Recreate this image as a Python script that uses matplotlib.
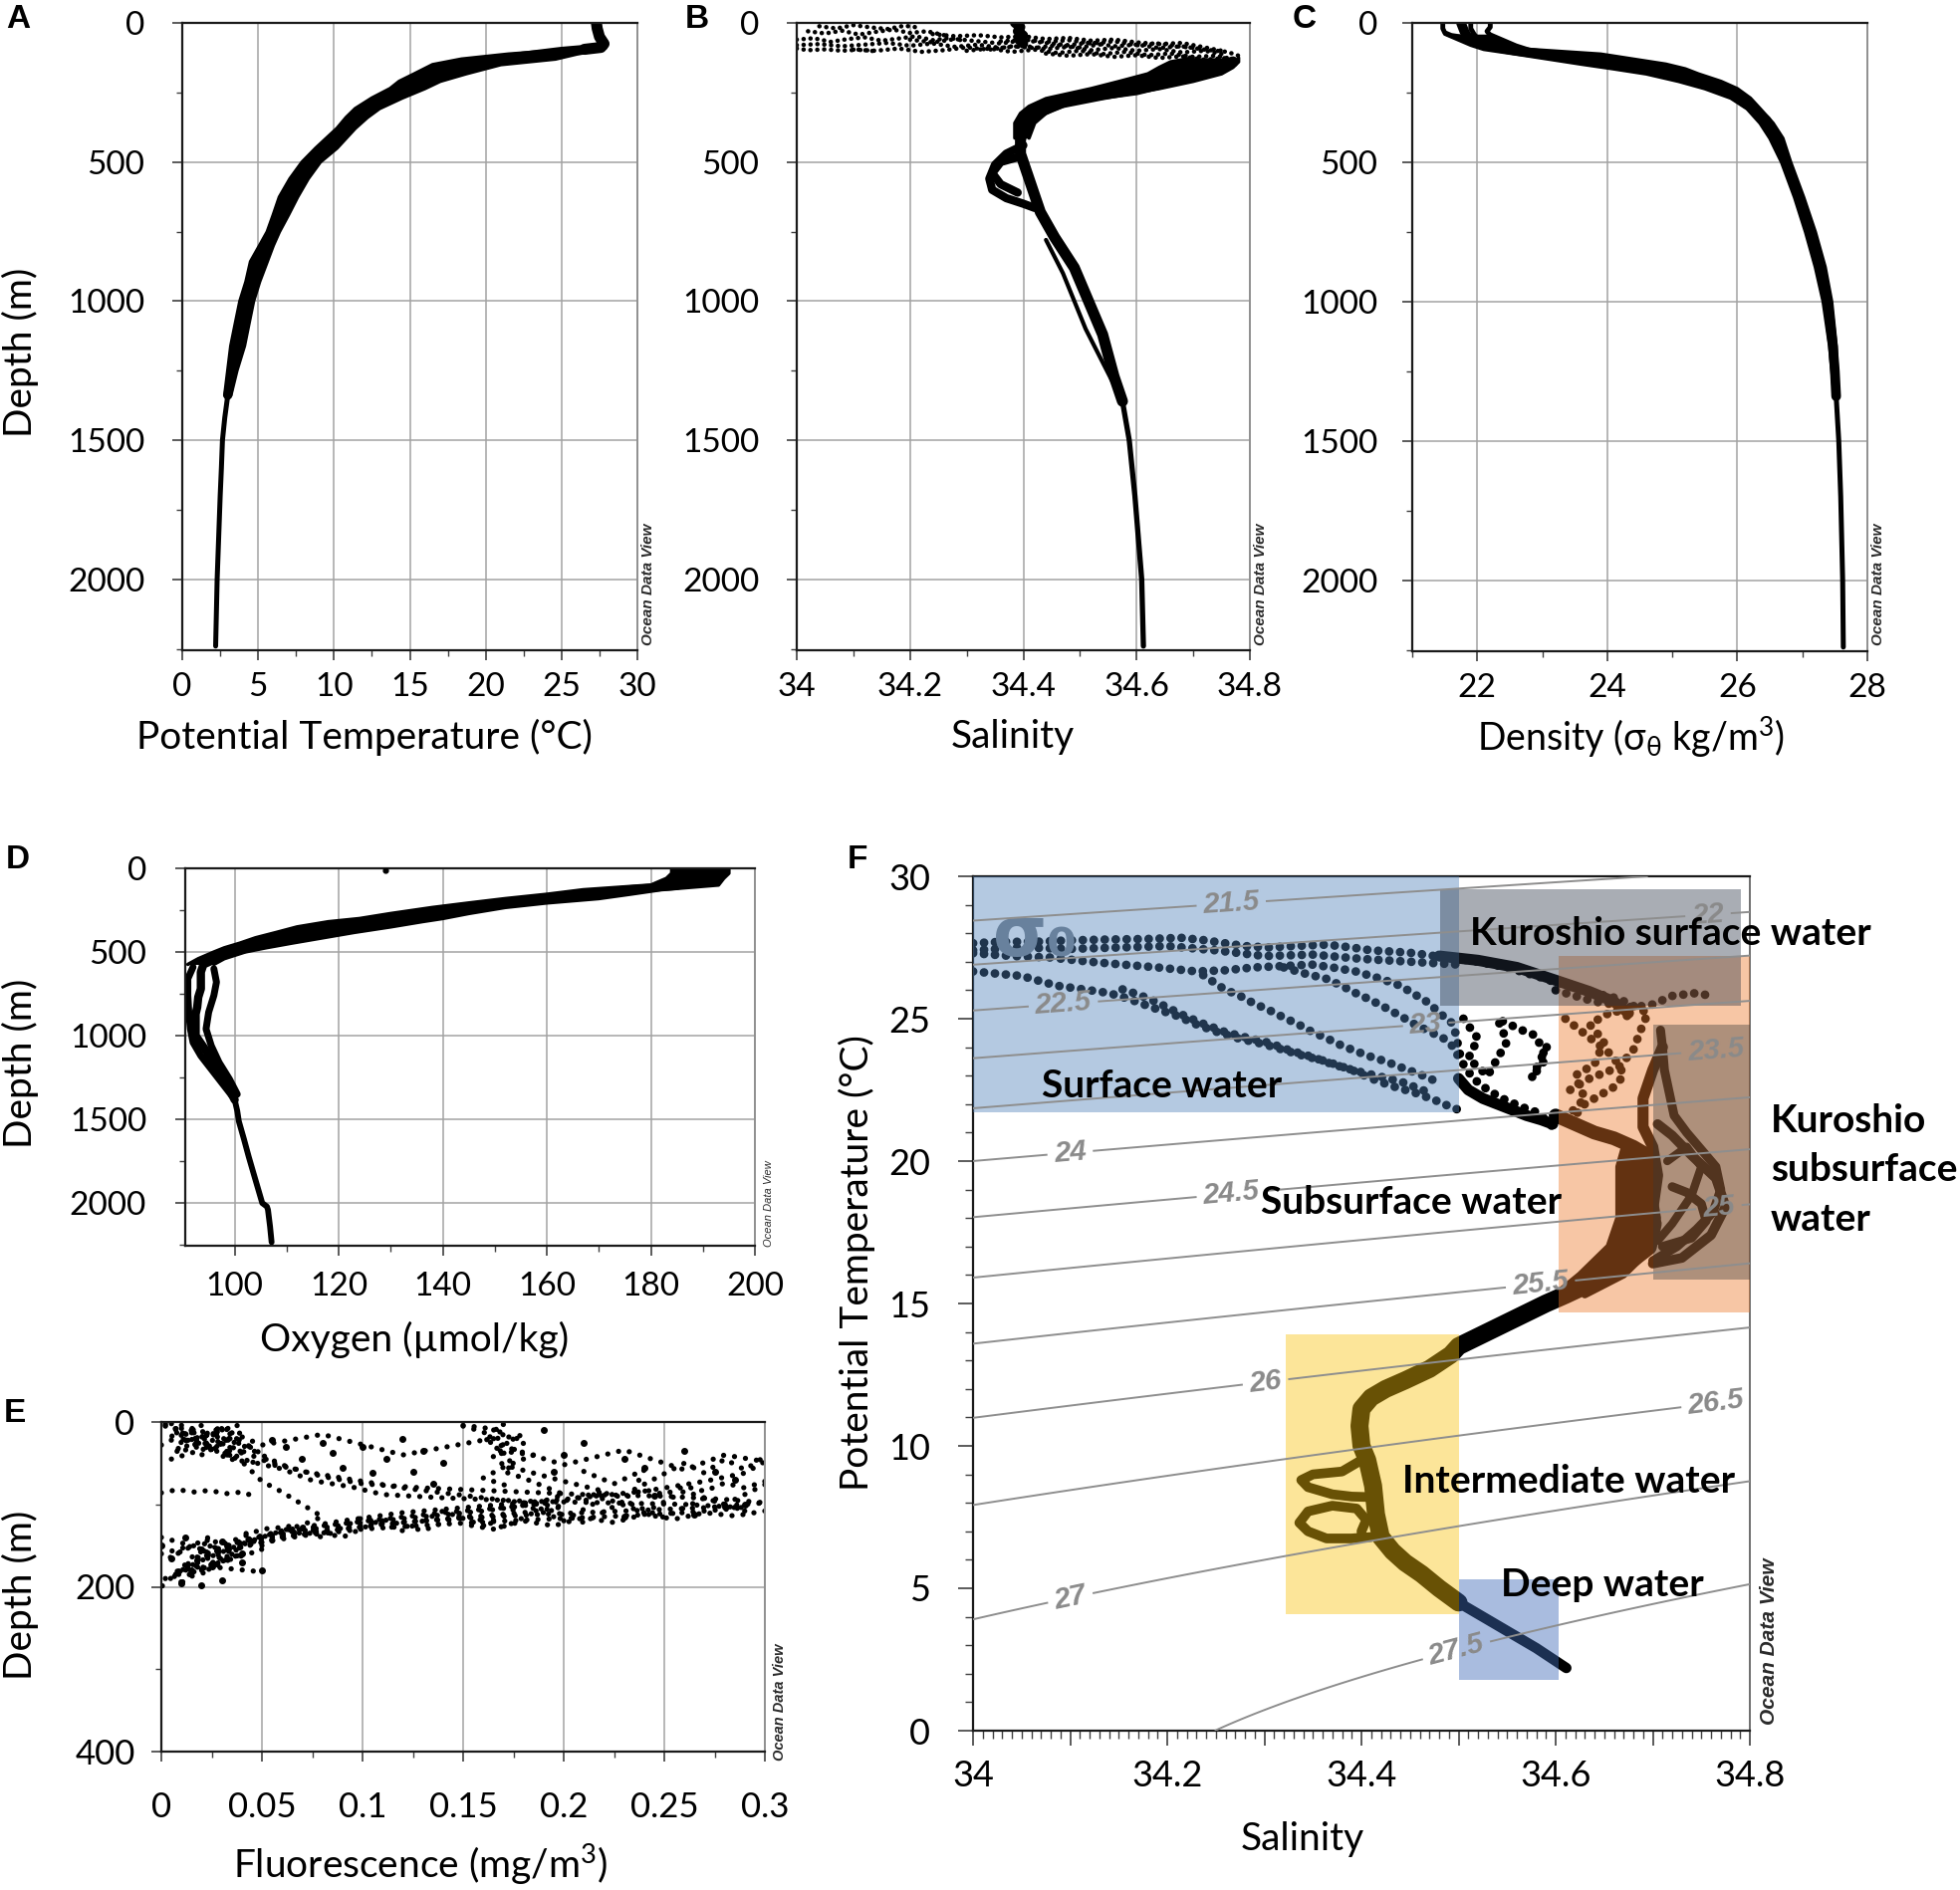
import numpy as np
import matplotlib
matplotlib.use("Agg")
import matplotlib.pyplot as plt
from matplotlib.patches import Rectangle
from matplotlib import font_manager

# ------------------------------------------------------------------ data
# Panel A : potential temperature profile (centre line + band edges)
A_DEPTH = [0, 20, 50, 75, 88, 95, 102, 112, 122, 135, 150, 165, 183, 205, 236, 270, 308, 340,
           379, 420, 450, 500, 560, 626, 690, 751, 810, 858, 930, 1000, 1080, 1161, 1250, 1339,
           1420, 1500, 1600, 1700, 1850, 2000, 2120, 2240]
A_TEMP = [27.3, 27.35, 27.5, 27.8, 27.6, 26.5, 25.0, 23.5, 22.0, 20.5, 19.3, 18.2, 17.0, 16.0,
          14.8, 13.5, 12.2, 11.5, 10.8, 10.1, 9.5, 8.5, 7.7, 7.0, 6.5, 6.0, 5.5, 5.1, 4.6, 4.25,
          3.9, 3.65, 3.3, 3.0, 2.8, 2.65, 2.58, 2.5, 2.4, 2.3, 2.25, 2.2]
A_EDGE_DEPTH = [90, 100, 112, 130, 150, 183, 210, 236, 270, 308, 340, 379, 450, 500, 560, 626,
                690, 751, 800, 858, 930, 1000, 1080, 1161, 1250, 1339]
A_EDGE_LO = [26.5, 24.5, 21.5, 18.4, 16.5, 15.3, 14.3, 13.7, 12.5, 11.4, 10.8, 10.2, 8.8, 7.9,
             7.1, 6.4, 6.0, 5.6, 5.1, 4.5, 4.2, 3.8, 3.5, 3.2, 3.0, 2.8]
A_EDGE_HI = [27.9, 27.2, 26.0, 24.6, 21.0, 18.7, 17.0, 16.0, 14.5, 13.0, 12.2, 11.4, 10.2, 9.1,
             8.3, 7.6, 7.0, 6.4, 6.0, 5.6, 5.1, 4.7, 4.4, 4.1, 3.6, 3.2]

# Panel B : salinity profile
B_DEPTH = [140, 160, 185, 210, 240, 270, 300, 330, 380, 420, 470, 500, 560, 620, 680, 770, 880,
           1000, 1120, 1270, 1360, 1500, 1700, 2000, 2240]
B_SAL = [34.77, 34.74, 34.70, 34.66, 34.60, 34.49, 34.45, 34.42, 34.40, 34.395, 34.395, 34.40,
         34.41, 34.42, 34.43, 34.455, 34.49, 34.515, 34.54, 34.56, 34.575, 34.587, 34.597,
         34.609, 34.612]
B_EDGE_DEPTH = [125, 140, 160, 183, 210, 236, 272, 300, 325, 360, 414]
B_EDGE_LO = [34.70, 34.66, 34.64, 34.62, 34.57, 34.52, 34.44, 34.41, 34.395, 34.385, 34.385]
B_EDGE_HI = [34.78, 34.78, 34.77, 34.75, 34.70, 34.64, 34.54, 34.47, 34.44, 34.42, 34.41]
B_LOW_SAL = [[34.40, 34.37, 34.35, 34.34, 34.345, 34.37, 34.40, 34.42],
             [34.395, 34.36, 34.345, 34.36, 34.39]]
B_LOW_DEPTH = [[440, 470, 510, 560, 600, 630, 650, 665], [480, 500, 540, 580, 610]]
B_SIDE_SAL = [34.44, 34.47, 34.49, 34.51, 34.535, 34.56]
B_SIDE_DEPTH = [780, 900, 1000, 1100, 1200, 1300]
B_BLOB_SAL = [34.385, 34.395, 34.39, 34.40, 34.392, 34.40]
B_BLOB_DEPTH = [0, 15, 30, 45, 60, 75]
B_SURF_SAL = [
    [34.00, 34.03, 34.06, 34.09, 34.12, 34.15, 34.18, 34.21, 34.24, 34.27, 34.30],
    [34.02, 34.05, 34.08, 34.11, 34.14, 34.17, 34.20, 34.23, 34.26],
    [34.00, 34.04, 34.08, 34.12, 34.16, 34.20, 34.24, 34.28, 34.32, 34.36, 34.40, 34.44, 34.48,
     34.52, 34.56, 34.60, 34.64, 34.68, 34.72, 34.76],
    [34.20, 34.24, 34.28, 34.32, 34.36, 34.40, 34.44, 34.48, 34.52, 34.56, 34.60, 34.64, 34.68,
     34.72, 34.76, 34.78],
    [34.24, 34.28, 34.32, 34.36, 34.40, 34.44, 34.48, 34.52, 34.56, 34.60, 34.64, 34.68, 34.72,
     34.75],
    [34.30, 34.34, 34.38, 34.42, 34.46, 34.50, 34.54, 34.58, 34.62, 34.66, 34.70, 34.74, 34.77],
    [34.10, 34.14, 34.18, 34.22, 34.26, 34.30, 34.34, 34.38, 34.42, 34.46, 34.50, 34.54],
    [34.00, 34.02, 34.05, 34.08, 34.11, 34.14],
    [34.44, 34.48, 34.52, 34.56, 34.60, 34.64, 34.68, 34.72, 34.76],
    [34.04, 34.07, 34.10, 34.13, 34.16, 34.19, 34.22],
    [34.36, 34.40, 34.44, 34.48, 34.52, 34.56, 34.60, 34.64, 34.68, 34.72],
]
B_SURF_DEPTH = [
    [60, 55, 68, 58, 52, 64, 56, 48, 62, 54, 66],
    [30, 38, 28, 42, 32, 24, 36, 30, 44],
    [80, 76, 84, 78, 72, 82, 74, 86, 78, 90, 82, 94, 86, 98, 90, 100, 94, 106, 100, 115],
    [60, 70, 58, 66, 74, 62, 72, 80, 70, 84, 78, 90, 84, 96, 104, 118],
    [40, 48, 44, 52, 48, 58, 54, 64, 60, 70, 76, 72, 88, 100],
    [100, 92, 104, 96, 108, 100, 112, 104, 116, 110, 122, 118, 130],
    [96, 100, 92, 104, 98, 88, 96, 84, 90, 80, 88, 76],
    [92, 98, 95, 100, 96, 102],
    [110, 118, 112, 122, 116, 126, 120, 132, 126],
    [12, 20, 8, 16, 22, 10, 18],
    [66, 60, 68, 62, 74, 66, 80, 74, 86, 92],
]

# Panel C : density profile
C_DEPTH = [0, 30, 50, 62, 75, 90, 100, 112, 125, 140, 155, 170, 183, 200, 220, 236, 260, 285,
           308, 350, 414, 500, 560, 626, 690, 751, 815, 876, 940, 1000, 1080, 1160, 1250, 1340,
           1420, 1500, 1600, 1700, 1850, 2000, 2120, 2240]
C_SIG = [21.75, 21.8, 21.85, 21.95, 22.1, 22.35, 22.6, 23.0, 23.5, 24.0, 24.4, 24.75, 25.0, 25.3,
         25.6, 25.75, 25.95, 26.1, 26.25, 26.45, 26.6, 26.75, 26.85, 26.95, 27.03, 27.12, 27.2,
         27.28, 27.33, 27.39, 27.43, 27.47, 27.5, 27.52, 27.54, 27.56, 27.575, 27.59, 27.605,
         27.62, 27.625, 27.63]
C_EDGE_DEPTH = [40, 60, 80, 95, 112, 130, 148, 165, 183, 210, 236, 270, 308, 360, 414, 500, 626,
                751, 876, 1000, 1160, 1340]
C_EDGE_LO = [21.5, 21.7, 21.9, 22.1, 22.6, 23.1, 23.6, 24.1, 24.6, 25.1, 25.5, 25.9, 26.15,
             26.35, 26.5, 26.68, 26.88, 27.05, 27.2, 27.32, 27.42, 27.49]
C_EDGE_HI = [22.2, 22.4, 22.6, 22.8, 23.9, 24.4, 24.9, 25.2, 25.4, 25.75, 26.0, 26.2, 26.35,
             26.55, 26.7, 26.82, 27.02, 27.2, 27.35, 27.45, 27.52, 27.55]
C_SURF_SIG = [[21.47, 21.47, 21.5, 21.6, 21.8, 22.0], [22.2, 22.2, 22.15, 22.2, 22.3],
              [21.9, 21.9, 21.95, 22.0]]
C_SURF_DEPTH = [[0, 20, 35, 45, 52, 60], [0, 15, 30, 45, 62], [0, 20, 40, 55]]

# Panel D : oxygen profile
D_DEPTH = [0, 40, 80, 105, 128, 155, 181, 207, 234, 270, 300, 319, 350, 383, 415, 447, 475, 500,
           540, 574, 620, 660, 720, 770, 830, 870, 940, 1000, 1045, 1090, 1140, 1190, 1250, 1300,
           1340, 1383, 1450, 1511, 1620, 1723, 1830, 1936, 2000, 2021, 2040, 2140, 2234]
D_OXY = [190, 190, 188, 185, 175, 168, 161, 153, 145, 137, 131, 127, 121, 115, 110, 106, 103,
         99.5, 96.5, 94, 93.5, 93.5, 93.5, 93, 92.8, 92.5, 92.5, 92.5, 93.5, 94.5, 95.5, 96.5,
         97.5, 98.5, 99.3, 100, 100.5, 100.8, 101.8, 102.7, 103.7, 104.7, 105.3, 106.2, 106.4,
         106.8, 107.1]
D_EDGE_DEPTH = [0, 30, 60, 100, 128, 155, 181, 207, 234, 270, 300, 319, 350, 383, 415, 447, 475,
                500, 540, 574]
D_EDGE_LO = [184, 184, 183, 180, 167, 160, 152, 145, 138, 130, 124, 118, 112, 108, 104, 101, 98,
             96, 93, 91]
D_EDGE_HI = [195, 195, 194, 193, 182, 176, 170, 160, 152, 145, 140, 136, 130, 123, 117, 111, 106,
             102, 98, 96]
D_CAST_OXY = [[92, 91, 91, 91.2, 91.5, 92, 93.5, 95.5, 97.5, 99.5],
              [96, 96.5, 96, 95, 94.5, 95.5, 97, 99, 100.5]]
D_CAST_DEPTH = [[590, 660, 760, 870, 960, 1040, 1120, 1200, 1280, 1360],
                [600, 680, 760, 860, 960, 1060, 1160, 1260, 1350]]
D_DOT_OXY = [129]
D_DOT_DEPTH = [12]

# Panel E : fluorescence casts
E_FLUO = [
    [0.005, 0.012, 0.02, 0.03, 0.04, 0.05, 0.065, 0.08, 0.10, 0.13, 0.17, 0.21, 0.25, 0.28, 0.30,
     0.27, 0.23, 0.19, 0.15, 0.11, 0.08, 0.05, 0.03, 0.015, 0.005],
    [0.002, 0.01, 0.018, 0.028, 0.036, 0.044, 0.06, 0.075, 0.095, 0.11, 0.14, 0.18, 0.22, 0.26,
     0.29, 0.26, 0.22, 0.18, 0.14, 0.10, 0.07, 0.045, 0.025, 0.01, 0.0],
    [0.15, 0.16, 0.165, 0.17, 0.168, 0.172, 0.175, 0.17, 0.18, 0.19, 0.2, 0.185, 0.16, 0.13, 0.10,
     0.075, 0.05, 0.03, 0.015],
    [0.17, 0.165, 0.172, 0.18, 0.175, 0.165, 0.17, 0.185, 0.2, 0.22, 0.2, 0.17, 0.14, 0.11, 0.08,
     0.055, 0.035, 0.02, 0.005],
    [0.03, 0.05, 0.08, 0.12, 0.16, 0.2, 0.23, 0.26, 0.28, 0.3, 0.29, 0.27, 0.24, 0.2, 0.16, 0.12,
     0.09, 0.06, 0.04, 0.02, 0.01],
    [0.01, 0.025, 0.04, 0.05, 0.06, 0.07, 0.085, 0.1, 0.12, 0.14, 0.16, 0.18, 0.2, 0.18, 0.15,
     0.12, 0.09, 0.06, 0.04, 0.02, 0.008],
    [0.002, 0.01, 0.02, 0.03, 0.04, 0.045, 0.05, 0.06, 0.07, 0.08, 0.07, 0.06, 0.05, 0.04, 0.03,
     0.02, 0.01, 0.003],
    [0.0, 0.008, 0.016, 0.024, 0.032, 0.04, 0.046],
    [0.002, 0.01, 0.004, 0.018, 0.008, 0.026, 0.012, 0.034, 0.02, 0.04, 0.03, 0.045],
    [0.0, 0.02, 0.006, 0.03, 0.015, 0.038, 0.025, 0.044, 0.035, 0.05],
    [0.005, 0.025, 0.01, 0.035, 0.03, 0.048, 0.055, 0.065],
    [0.0, 0.015, 0.004, 0.025, 0.01, 0.035, 0.02, 0.045, 0.03, 0.05, 0.04],
    [0.002, 0.02, 0.008, 0.03, 0.016, 0.04, 0.026, 0.05],
    [0.0, 0.012, 0.028, 0.018, 0.04, 0.05, 0.06, 0.07],
    [0.05, 0.07, 0.09, 0.11, 0.13, 0.15, 0.17, 0.19, 0.21, 0.23, 0.25, 0.27, 0.29],
    [0.3, 0.28, 0.26, 0.24, 0.22, 0.2, 0.18, 0.16, 0.14, 0.12, 0.1, 0.08, 0.06],
    [0.21, 0.225, 0.24, 0.235, 0.26, 0.27, 0.28, 0.29, 0.3],
    [0.15, 0.17, 0.16, 0.18, 0.165, 0.185, 0.17, 0.16, 0.175],
    [0.3, 0.29, 0.28, 0.27, 0.26, 0.25, 0.24, 0.23, 0.22, 0.21],
    [0.3, 0.285, 0.27, 0.255, 0.24, 0.225, 0.21, 0.195, 0.18, 0.165, 0.15],
]
E_DEPTH = [
    [2, 10, 18, 26, 35, 46, 56, 66, 75, 80, 84, 88, 90, 94, 98, 104, 108, 112, 117, 123, 132, 142,
     155, 170, 190],
    [5, 12, 22, 30, 40, 48, 57, 71, 79, 88, 92, 96, 98, 100, 104, 110, 115, 119, 124, 130, 138,
     148, 160, 178, 200],
    [5, 12, 20, 28, 36, 44, 52, 60, 68, 78, 88, 100, 108, 115, 122, 130, 140, 152, 168],
    [3, 10, 18, 26, 34, 42, 52, 62, 72, 84, 96, 104, 110, 118, 126, 136, 148, 165, 185],
    [8, 28, 15, 40, 22, 52, 34, 58, 40, 48, 62, 72, 84, 94, 102, 110, 120, 132, 144, 160, 178],
    [4, 15, 28, 40, 52, 60, 66, 72, 80, 86, 92, 98, 103, 110, 116, 122, 130, 140, 152, 168, 186],
    [2, 12, 24, 36, 48, 60, 72, 85, 100, 115, 125, 132, 140, 148, 158, 168, 180, 195],
    [86, 82, 85, 83, 87, 85, 90],
    [4, 10, 18, 8, 26, 14, 34, 20, 40, 12, 44, 30],
    [28, 4, 38, 6, 22, 4, 16, 30, 46, 50],
    [45, 30, 20, 42, 8, 36, 52, 56],
    [140, 150, 165, 138, 178, 150, 185, 142, 170, 155, 130],
    [190, 172, 198, 165, 182, 160, 176, 182],
    [160, 152, 145, 160, 140, 130, 128, 136],
    [150, 128, 140, 118, 132, 112, 128, 104, 122, 96, 116, 92, 108],
    [76, 100, 84, 110, 92, 120, 100, 126, 108, 132, 116, 140, 124],
    [60, 75, 58, 82, 50, 62, 45, 58, 42],
    [4, 10, 22, 16, 34, 40, 55, 68, 80],
    [72, 80, 74, 84, 78, 88, 82, 92, 86, 96],
    [108, 114, 110, 118, 112, 122, 116, 126, 120, 130, 124],
]
E_SCAT_FLUO = [0.055, 0.062, 0.07, 0.08, 0.085, 0.09, 0.1, 0.105, 0.112, 0.12, 0.125, 0.13, 0.135,
               0.14, 0.19, 0.2, 0.195, 0.21, 0.23, 0.24, 0.26, 0.275, 0.285, 0.245, 0.23, 0.265,
               0.28, 0.29, 0.05, 0.04, 0.02, 0.03, 0.01, 0.0, 0.005, 0.012, 0.02, 0.03, 0.04,
               0.015, 0.025]
E_SCAT_DEPTH = [22, 30, 45, 25, 38, 55, 30, 62, 45, 20, 60, 35, 75, 50, 10, 40, 60, 25, 45, 55,
                35, 60, 70, 90, 115, 112, 103, 100, 180, 170, 198, 192, 196, 150, 165, 140, 155,
                145, 160, 180, 175]

# Panel F : T-S diagram
F_BAND_SAL = [34.611, 34.58, 34.545, 34.52, 34.50, 34.48, 34.462, 34.445, 34.432, 34.42, 34.415,
              34.412, 34.406, 34.400, 34.398, 34.40, 34.41, 34.425, 34.445, 34.47, 34.492, 34.50,
              34.53, 34.56, 34.59, 34.61, 34.635, 34.655, 34.672, 34.695, 34.70]
F_BAND_TEMP = [2.2, 2.9, 3.6, 4.1, 4.5, 5.0, 5.5, 5.9, 6.3, 6.8, 7.6, 8.6, 9.5, 10.0, 10.7, 11.3,
               11.7, 12.0, 12.3, 12.7, 13.2, 13.5, 14.0, 14.5, 15.0, 15.3, 15.7, 16.0, 16.4,
               17.0, 17.8]
F_LOOP_SAL = [[34.41, 34.39, 34.364, 34.345, 34.336, 34.345, 34.37, 34.395, 34.405, 34.40],
              [34.41, 34.39, 34.37, 34.345, 34.338, 34.35, 34.38, 34.40]]
F_LOOP_TEMP = [[6.8, 6.75, 6.75, 7.0, 7.3, 7.7, 7.9, 7.8, 7.4, 7.0],
               [8.2, 8.22, 8.3, 8.55, 8.8, 9.0, 9.1, 9.5]]
# dense Kuroshio band (edges) and strands
F_KBAND_TEMP = [15.3, 16.0, 17.0, 18.0, 19.0, 19.8, 20.4]
F_KBAND_LO = [34.60, 34.625, 34.655, 34.665, 34.665, 34.665, 34.67]
F_KBAND_HI = [34.63, 34.67, 34.70, 34.705, 34.70, 34.70, 34.70]
F_KURO_SAL = [
    [34.60, 34.62, 34.64, 34.66, 34.68, 34.695, 34.70, 34.69],
    [34.695, 34.70, 34.705, 34.70, 34.69, 34.69, 34.70, 34.71],
    [34.70, 34.725, 34.745, 34.762, 34.77, 34.765, 34.75, 34.735, 34.722, 34.717, 34.712, 34.71,
     34.708],
    [34.71, 34.74, 34.755, 34.75, 34.735, 34.72],
    [34.70, 34.73, 34.76, 34.775, 34.765, 34.74, 34.72, 34.705],
    [34.705, 34.72, 34.74, 34.75, 34.735, 34.715],
    [34.48, 34.52, 34.56, 34.60, 34.635, 34.66, 34.675],
]
F_KURO_TEMP = [
    [21.6, 21.3, 21.0, 20.8, 20.5, 20.2, 19.6, 19.0],
    [17.5, 18.3, 19.5, 20.5, 21.2, 22.2, 23.2, 24.0],
    [16.5, 17.0, 17.6, 18.2, 19.0, 19.8, 20.4, 21.0, 21.6, 22.4, 23.2, 24.0, 24.6],
    [17.0, 17.3, 17.9, 18.5, 18.9, 19.1],
    [16.4, 16.6, 17.4, 18.4, 19.4, 20.2, 20.9, 21.3],
    [17.2, 17.8, 18.8, 19.8, 20.5, 20.0],
    [27.2, 27.05, 26.8, 26.35, 25.95, 25.6, 25.2],
]
F_KURO_LW = [10, 8, 6.5, 6.5, 7, 6, 8]
F_WARM_SAL = [
    [34.0, 34.03, 34.064, 34.10, 34.139, 34.18, 34.214, 34.24, 34.259, 34.28, 34.304, 34.33,
     34.364, 34.39, 34.41, 34.435, 34.455, 34.475, 34.49, 34.52, 34.55, 34.57, 34.59, 34.605],
    [34.0, 34.05, 34.1, 34.15, 34.2, 34.25, 34.3, 34.35, 34.4, 34.45, 34.5],
    [34.0, 34.05, 34.086, 34.12, 34.14, 34.16, 34.184, 34.21, 34.23, 34.25, 34.274, 34.30, 34.32,
     34.34, 34.364, 34.39, 34.41, 34.43, 34.455, 34.475, 34.492, 34.5],
    [34.0, 34.04, 34.079, 34.12, 34.154, 34.19, 34.23, 34.26, 34.289, 34.32, 34.349, 34.37,
     34.394, 34.42, 34.44, 34.455, 34.47, 34.48, 34.492, 34.498, 34.5, 34.505, 34.515, 34.53,
     34.545, 34.565, 34.582, 34.597],
    [34.154, 34.17, 34.184, 34.2, 34.214, 34.235, 34.259, 34.28, 34.304, 34.325, 34.349, 34.37,
     34.394, 34.415, 34.44, 34.455, 34.47],
    [34.237, 34.248, 34.259, 34.275, 34.289, 34.305, 34.32, 34.335, 34.349, 34.365, 34.38, 34.395,
     34.41, 34.425, 34.44, 34.46, 34.477],
    [34.32, 34.34, 34.364, 34.38, 34.394, 34.41, 34.424, 34.44, 34.455, 34.47, 34.485, 34.495,
     34.5],
    [34.505, 34.52, 34.51, 34.53, 34.55, 34.54, 34.565, 34.58, 34.59, 34.575, 34.595],
    [34.60, 34.62, 34.64, 34.66, 34.68, 34.70, 34.72, 34.745, 34.76],
    [34.61, 34.625, 34.64, 34.655, 34.665, 34.67, 34.66, 34.645, 34.63, 34.62],
    [34.61, 34.63, 34.62, 34.64, 34.65, 34.635, 34.66, 34.68],
    [34.615, 34.635, 34.665, 34.68, 34.687, 34.695, 34.665, 34.627, 34.59],
]
F_WARM_TEMP = [
    [27.65, 27.7, 27.7, 27.75, 27.78, 27.8, 27.84, 27.75, 27.65, 27.55, 27.5, 27.55, 27.6, 27.5,
     27.4, 27.35, 27.3, 27.2, 27.15, 27.0, 26.8, 26.6, 26.4, 26.2],
    [27.4, 27.5, 27.45, 27.5, 27.55, 27.4, 27.2, 27.25, 27.1, 27.0, 26.9],
    [26.66, 26.5, 26.16, 26.0, 25.9, 25.7, 25.4, 25.1, 24.8, 24.55, 24.3, 24.1, 23.9, 23.7, 23.5,
     23.2, 22.9, 22.65, 22.4, 22.15, 21.9, 21.8],
    [27.3, 27.2, 27.15, 27.0, 26.9, 26.8, 26.66, 26.7, 26.8, 26.85, 26.9, 26.8, 26.66, 26.4,
     26.16, 25.85, 25.54, 25.2, 24.9, 24.4, 23.9, 23.4, 22.9, 22.5, 22.2, 21.9, 21.7, 21.2],
    [26.03, 25.85, 25.66, 25.4, 25.16, 24.85, 24.54, 24.35, 24.16, 23.9, 23.66, 23.4, 23.17,
     23.0, 22.8, 22.6, 22.4],
    [26.53, 26.28, 26.03, 25.8, 25.54, 25.3, 25.04, 24.8, 24.54, 24.3, 24.05, 23.85, 23.66, 23.5,
     23.3, 23.05, 22.8],
    [26.8, 26.6, 26.4, 26.15, 25.9, 25.65, 25.4, 25.1, 24.8, 24.55, 24.3, 24.0, 23.65],
    [25.0, 24.3, 23.6, 23.0, 24.2, 25.0, 24.6, 24.4, 23.6, 22.9, 24.3],
    [26.0, 25.8, 25.6, 25.5, 25.4, 25.5, 25.8, 25.9, 25.8],
    [25.0, 24.6, 24.2, 23.8, 23.4, 23.0, 22.6, 22.3, 22.0, 21.6],
    [21.5, 22.2, 23.0, 23.4, 24.2, 24.8, 25.3, 25.0],
    [22.5, 22.9, 23.3, 23.9, 24.55, 25.2, 25.7, 26.0, 26.4],
]
F_EDGE_SAL = [34.50, 34.51, 34.525, 34.54, 34.555, 34.57, 34.585, 34.597]
F_EDGE_TEMP = [22.9, 22.5, 22.2, 22.0, 21.8, 21.6, 21.45, 21.3]

SIG_LEVELS = [21.5, 22.0, 22.5, 23.0, 23.5, 24.0, 24.5, 25.0, 25.5, 26.0, 26.5, 27.0, 27.5]
SIG_LABEL_POS = [(34.266, 29.0), (34.757, 28.6), (34.093, 25.5), (34.466, 24.9), (34.765, 23.9),
                 (34.10, 20.3), (34.266, 18.8), (34.768, 18.4), (34.584, 15.8), (34.301, 12.3),
                 (34.765, 11.5), (34.10, 4.7), (34.498, 2.8)]

# water-mass boxes: (S0, S1, T0, T1, colour, alpha)
WATER_BOXES = [
    (34.0, 34.50, 21.7, 30.0, (0.30, 0.50, 0.72), 0.42),
    (34.603, 34.80, 14.7, 27.2, (0.93, 0.47, 0.16), 0.42),
    (34.481, 34.791, 25.44, 29.55, (0.16, 0.20, 0.27), 0.40),
    (34.70, 34.80, 15.84, 24.79, (0.22, 0.22, 0.22), 0.38),
    (34.322, 34.50, 4.1, 13.9, (0.98, 0.76, 0.05), 0.42),
    (34.50, 34.603, 1.8, 5.33, (0.25, 0.42, 0.72), 0.45),
]
WATER_LABELS = [("Kuroshio surface water", 34.512, 28.0),
                ("Surface water", 34.071, 22.65),
                ("Subsurface water", 34.296, 18.55),
                ("Intermediate water", 34.442, 8.75),
                ("Deep water", 34.544, 5.12)]

# ------------------------------------------------------------------ setup
W, H, DPI = 1968, 1898, 100
names = {f.name for f in font_manager.fontManager.ttflist}
BASE = ["Lato", "DejaVu Sans"] if "Lato" in names else ["DejaVu Sans"]
plt.rcParams["font.family"] = BASE
plt.rcParams["mathtext.default"] = "regular"

fig = plt.figure(figsize=(W / DPI, H / DPI), dpi=DPI)


def add_ax(L, T, R, B):
    return fig.add_axes([L / W, 1 - B / H, (R - L) / W, (B - T) / H])


def style(ax, xt, xl, yt, yl, xm, ym, xlim, ylim, fs=24, xpad=9, ypad=20, grid=True,
          maj_len=7, min_len=4):
    ax.set_xticks(xt)
    ax.set_xticklabels(xl, fontsize=fs)
    ax.set_yticks(yt)
    ax.set_yticklabels(yl, fontsize=fs)
    ax.set_xticks(xm, minor=True)
    ax.set_yticks(ym, minor=True)
    ax.set_xlim(*xlim)
    ax.set_ylim(*ylim)
    ax.tick_params(which="major", direction="out", length=maj_len, width=1.2, color="#404040")
    ax.tick_params(which="minor", direction="out", length=min_len, width=1.0, color="#404040")
    ax.tick_params(axis="x", pad=xpad)
    ax.tick_params(axis="y", pad=ypad)
    if grid:
        ax.grid(True, which="major", color="#a3a3a3", lw=1.1)
        ax.set_axisbelow(True)
    for s in ["top", "left", "bottom"]:
        ax.spines[s].set_color("#1a1a1a")
        ax.spines[s].set_linewidth(1.6)
    ax.spines["right"].set_color("#909090")
    ax.spines["right"].set_linewidth(1.4)


def xlab(ax, text, cx, cy, fs=28):
    ax.set_xlabel(text, fontsize=fs)
    ax.xaxis.set_label_coords(cx / W, 1 - cy / H, transform=fig.transFigure)
    ax.xaxis.label.set_va("center")


def ylab(ax, text, cx, cy, fs=28):
    ax.set_ylabel(text, fontsize=fs)
    ax.yaxis.set_label_coords(cx / W, 1 - cy / H, transform=fig.transFigure)
    ax.yaxis.label.set_va("center")
    ax.yaxis.label.set_ha("center")


def odv(x, y, fs=9, weight="bold"):
    fig.text(x / W, 1 - y / H, "Ocean Data View", rotation=90, fontsize=fs, fontweight=weight,
             fontstyle="italic", family=["Liberation Sans", "DejaVu Sans"], color="#2a2a2a",
             ha="center", va="center")


def letter(t, x, y, fs=24):
    fig.text(x / W, 1 - y / H, t, fontsize=fs, fontweight="bold",
             family=["Liberation Sans", "DejaVu Sans"], ha="left", va="center")


def dotted(ax, x, y, lw, gap, z=2):
    ax.plot(x, y, color="black", lw=lw, linestyle=(0, (0.01, gap)), dash_capstyle="round",
            zorder=z)


def band(ax, d, lo, hi):
    ax.fill_betweenx(d, lo, hi, color="black", lw=0, zorder=2)
    ax.plot(lo, d, color="k", lw=2.5, zorder=2, solid_capstyle="round")
    ax.plot(hi, d, color="k", lw=2.5, zorder=2, solid_capstyle="round")


DEPTH_TICKS = [0, 500, 1000, 1500, 2000]
DEPTH_LABELS = ["0", "500", "1000", "1500", "2000"]
DEPTH_MINOR = [250, 750, 1250, 1750, 2250]

# ------------------------------------------------------------------ A
axA = add_ax(183, 23, 640, 653)
A_d = np.array(A_DEPTH); A_t = np.array(A_TEMP)
axA.plot(A_t, A_d, color="k", lw=3.6, solid_capstyle="round")
m = A_d <= 1340
axA.plot(A_t[m], A_d[m], color="k", lw=6.5, solid_capstyle="round")
band(axA, A_EDGE_DEPTH, A_EDGE_LO, A_EDGE_HI)
axA.plot(A_t[A_d <= 100], A_d[A_d <= 100], color="k", lw=8, solid_capstyle="round")
style(axA, [0, 5, 10, 15, 20, 25, 30], ["0", "5", "10", "15", "20", "25", "30"],
      DEPTH_TICKS, DEPTH_LABELS, [2.5, 7.5, 12.5, 17.5, 22.5, 27.5], DEPTH_MINOR,
      (0, 30), (2255, 0))
xlab(axA, "Potential Temperature (°C)", 366, 740)
ylab(axA, "Depth (m)", 20, 354)

# ------------------------------------------------------------------ B
axB = add_ax(800, 23, 1255, 653)
B_d = np.array(B_DEPTH); B_s = np.array(B_SAL)
axB.plot(B_s, B_d, color="k", lw=3.8, solid_capstyle="round")
m = B_d <= 1360
axB.plot(B_s[m], B_d[m], color="k", lw=8, solid_capstyle="round")
band(axB, B_EDGE_DEPTH, B_EDGE_LO, B_EDGE_HI)
for s, d in zip(B_LOW_SAL, B_LOW_DEPTH):
    axB.plot(s, d, color="k", lw=6, solid_capstyle="round")
axB.plot(B_SIDE_SAL, B_SIDE_DEPTH, color="k", lw=3, solid_capstyle="round")
axB.plot(B_BLOB_SAL, B_BLOB_DEPTH, color="k", lw=7, solid_capstyle="round")
for s, d in zip(B_SURF_SAL, B_SURF_DEPTH):
    dotted(axB, s, d, 3.3, 1.5)
style(axB, [34.0, 34.2, 34.4, 34.6, 34.8], ["34", "34.2", "34.4", "34.6", "34.8"],
      DEPTH_TICKS, DEPTH_LABELS, [34.1, 34.3, 34.5, 34.7], DEPTH_MINOR, (34.0, 34.8), (2255, 0))
xlab(axB, "Salinity", 1017, 740)

# ------------------------------------------------------------------ C
axC = add_ax(1418, 23, 1875, 654)
C_d = np.array(C_DEPTH); C_s = np.array(C_SIG)
axC.plot(C_s, C_d, color="k", lw=3.6, solid_capstyle="round")
m = C_d <= 1340
axC.plot(C_s[m], C_d[m], color="k", lw=7, solid_capstyle="round")
band(axC, C_EDGE_DEPTH, C_EDGE_LO, C_EDGE_HI)
for s, d in zip(C_SURF_SIG, C_SURF_DEPTH):
    axC.plot(s, d, color="k", lw=3.5, solid_capstyle="round")
style(axC, [22, 24, 26, 28], ["22", "24", "26", "28"], DEPTH_TICKS, DEPTH_LABELS,
      [21, 23, 25, 27], DEPTH_MINOR, (21.0, 28.0), (2255, 0), ypad=18)
xlab(axC, "Density (σ$_θ$ kg/m$^3$)", 1638, 740, fs=27)

# ------------------------------------------------------------------ D
axD = add_ax(186, 872, 758, 1251)
D_d = np.array(D_DEPTH); D_o = np.array(D_OXY)
axD.plot(D_o, D_d, color="k", lw=4.2, solid_capstyle="round")
m = D_d <= 1400
axD.plot(D_o[m], D_d[m], color="k", lw=6, solid_capstyle="round")
band(axD, D_EDGE_DEPTH, D_EDGE_LO, D_EDGE_HI)
for o, d in zip(D_CAST_OXY, D_CAST_DEPTH):
    axD.plot(o, d, color="k", lw=5, solid_capstyle="round")
axD.scatter(D_DOT_OXY, D_DOT_DEPTH, s=12, color="k", zorder=3)
style(axD, [100, 120, 140, 160, 180, 200], ["100", "120", "140", "160", "180", "200"],
      DEPTH_TICKS, DEPTH_LABELS, [110, 130, 150, 170, 190], DEPTH_MINOR, (90.5, 200),
      (2255, 0), xpad=12, ypad=21)
xlab(axD, "Oxygen (µmol/kg)", 416, 1345)
ylab(axD, "Depth (m)", 20, 1068)

# ------------------------------------------------------------------ E
axE = add_ax(162, 1428, 768, 1759)
for f, d in zip(E_FLUO, E_DEPTH):
    dotted(axE, f, d, 3.8, 2.1)
axE.scatter(E_SCAT_FLUO, E_SCAT_DEPTH, s=16, color="k", zorder=2)
style(axE, [0, 0.05, 0.1, 0.15, 0.2, 0.25, 0.3], ["0", "0.05", "0.1", "0.15", "0.2", "0.25", "0.3"],
      [0, 200, 400], ["0", "200", "400"], [0.025, 0.075, 0.125, 0.175, 0.225, 0.275],
      [100, 300], (0, 0.3), (400, 0), fs=25, xpad=22, ypad=12)
xlab(axE, "Fluorescence (mg/m$^3$)", 422, 1872)
ylab(axE, "Depth (m)", 20, 1602)

# ------------------------------------------------------------------ F
axF = add_ax(977, 880, 1757, 1738)


def sigma0(S, T):
    rw = (999.842594 + 6.793952e-2 * T - 9.095290e-3 * T ** 2 + 1.001685e-4 * T ** 3
          - 1.120083e-6 * T ** 4 + 6.536332e-9 * T ** 5)
    A = (8.24493e-1 - 4.0899e-3 * T + 7.6438e-5 * T ** 2 - 8.2467e-7 * T ** 3
         + 5.3875e-9 * T ** 4)
    B = -5.72466e-3 + 1.0227e-4 * T - 1.6546e-6 * T ** 2
    return rw + A * S + B * S ** 1.5 + 4.8314e-4 * S ** 2 - 1000.0


SS, TT = np.meshgrid(np.linspace(34.0, 34.8, 161), np.linspace(0, 30, 301))
cs = axF.contour(SS, TT, sigma0(SS, TT), levels=SIG_LEVELS, colors="#8e8e8e",
                 linewidths=1.4, zorder=4)
labs = axF.clabel(cs, levels=SIG_LEVELS, manual=SIG_LABEL_POS, inline=True, fmt="%g",
                  fontsize=21, inline_spacing=6)
for t in labs:
    t.set_fontweight("bold")
    t.set_fontstyle("italic")
    t.set_color("#8a8a8a")
    t.set_family(["Liberation Sans", "DejaVu Sans"])
    t.set_zorder(4.2)

axF.text(34.02, 27.2, "σ₀", fontsize=50, fontweight="bold", color="#7d838b",
         family=["DejaVu Sans"], zorder=2.5)

F_bs = np.array(F_BAND_SAL); F_bt = np.array(F_BAND_TEMP)
axF.plot(F_bs, F_bt, color="k", lw=7.5, solid_capstyle="round", zorder=2)
m = F_bt >= 4.4
axF.plot(F_bs[m], F_bt[m], color="k", lw=13, solid_capstyle="round", zorder=2)
for s, t in zip(F_LOOP_SAL, F_LOOP_TEMP):
    axF.plot(s, t, color="k", lw=7, solid_capstyle="round", zorder=2)
axF.fill_betweenx(F_KBAND_TEMP, F_KBAND_LO, F_KBAND_HI, color="k", lw=0, zorder=2)
axF.plot(F_KBAND_LO, F_KBAND_TEMP, color="k", lw=5, solid_capstyle="round", zorder=2)
axF.plot(F_KBAND_HI, F_KBAND_TEMP, color="k", lw=5, solid_capstyle="round", zorder=2)
for s, t, lw in zip(F_KURO_SAL, F_KURO_TEMP, F_KURO_LW):
    axF.plot(s, t, color="k", lw=lw, solid_capstyle="round", zorder=2)
for s, t in zip(F_WARM_SAL, F_WARM_TEMP):
    dotted(axF, s, t, 6.3, 1.25)
axF.plot(F_EDGE_SAL, F_EDGE_TEMP, color="k", lw=8, solid_capstyle="round", zorder=2)

for s0, s1, t0, t1, col, al in WATER_BOXES:
    axF.add_patch(Rectangle((s0, t0), s1 - s0, t1 - t0, facecolor=col, alpha=al,
                            edgecolor="none", zorder=3))
for txt, s, t in WATER_LABELS:
    axF.text(s, t, txt, fontsize=28, fontweight="bold", ha="left", va="center", zorder=5)
fig.text(1778 / W, 1 - 1108 / H, "Kuroshio\nsubsurface\nwater", fontsize=28,
         fontweight="bold", ha="left", va="top", linespacing=1.5)

style(axF, [34.0, 34.1, 34.2, 34.3, 34.4, 34.5, 34.6, 34.7, 34.8],
      ["34", "", "34.2", "", "34.4", "", "34.6", "", "34.8"],
      [0, 5, 10, 15, 20, 25, 30], ["0", "5", "10", "15", "20", "25", "30"],
      [34.0 + 0.01 * i for i in range(81)], list(range(31)), (34.0, 34.8), (0, 30),
      fs=26, grid=False, xpad=10, ypad=20, maj_len=11, min_len=6)
axF.spines["right"].set_color("#6e6e6e")
xlab(axF, "Salinity", 1308, 1847)
ylab(axF, "Potential Temperature (°C)", 860, 1268)

# ------------------------------------------------------------------ annotations
odv(651, 587, 11); odv(1266, 587, 11); odv(1886, 587, 11)
odv(772, 1209, 8, "normal"); odv(783, 1709, 10.5); odv(1776, 1648, 15)
letter("A", 6, 20); letter("B", 688, 20); letter("C", 1298, 20)
letter("D", 6, 864); letter("E", 4, 1420); letter("F", 851, 864)

fig.savefig("out.png", dpi=DPI)
